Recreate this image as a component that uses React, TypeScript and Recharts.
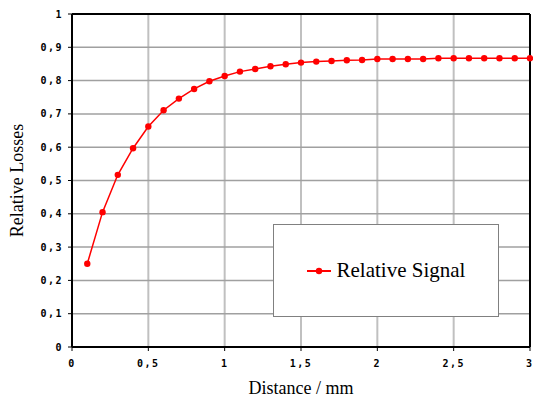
import React from 'react';
import { LineChart, Line, XAxis, YAxis, CartesianGrid, Legend, ReferenceLine, Label } from 'recharts';

const distances = [0.1, 0.2, 0.3, 0.4, 0.5, 0.6, 0.7, 0.8, 0.9, 1.0, 1.1, 1.2, 1.3, 1.4, 1.5, 1.6, 1.7, 1.8, 1.9, 2.0, 2.1, 2.2, 2.3, 2.4, 2.5, 2.6, 2.7, 2.8, 2.9, 3.0];
const relativeSignal = [0.25, 0.405, 0.517, 0.597, 0.662, 0.711, 0.746, 0.775, 0.798, 0.814, 0.827, 0.835, 0.843, 0.849, 0.854, 0.857, 0.859, 0.861, 0.862, 0.865, 0.865, 0.865, 0.865, 0.867, 0.867, 0.867, 0.867, 0.867, 0.867, 0.867];
const xTicks = [0, 0.5, 1, 1.5, 2, 2.5, 3];
const yTicks = [0, 0.1, 0.2, 0.3, 0.4, 0.5, 0.6, 0.7, 0.8, 0.9, 1];
const seriesName = 'Relative Signal';

const data = distances.map((d, i) => ({ d, v: relativeSignal[i] }));

const fmt = (v: number) => String(Math.round(v * 10) / 10).replace('.', ',');

const tickStyle = { fontFamily: 'DejaVu Sans Mono', fontWeight: 'bold', fontSize: 10, fill: '#000', letterSpacing: 1.5 } as any;

const LegendBox = (props: any) => {
  const item = (props.payload && props.payload[0]) || { value: seriesName, color: '#ff0000' };
  return (
    <div style={{ width: 226, height: 93, boxSizing: 'border-box', border: '1px solid #808080', background: '#fff', display: 'flex', alignItems: 'center', justifyContent: 'center' }}>
      <svg width={24} height={10} style={{ marginRight: 6 }}>
        <line x1={0} y1={5} x2={24} y2={5} stroke="#ff0000" strokeWidth={2} />
        <circle cx={12} cy={5} r={3.2} fill="#ff0000" />
      </svg>
      <span style={{ fontFamily: 'Liberation Serif', fontSize: 21, color: '#000' }}>{item.value}</span>
    </div>
  );
};

export default function App() {
  return (
    <div style={{ position: 'absolute', left: 0, top: 0, width: 533, height: 401, background: '#fff' }}>
      <LineChart width={533} height={401} data={data} margin={{ top: 14, right: 3, bottom: 0, left: 0 }}>
        <CartesianGrid horizontal={false} stroke="#c0c0c0" strokeWidth={2} verticalValues={xTicks} />
        <CartesianGrid vertical={false} stroke="#a0a0a0" strokeWidth={1.5} horizontalValues={yTicks} />
        <XAxis
          dataKey="d"
          type="number"
          domain={[0, 3]}
          ticks={xTicks}
          tickFormatter={fmt}
          height={54}
          tickSize={4}
          tickMargin={9}
          tick={tickStyle}
          axisLine={{ stroke: '#000', strokeWidth: 2 }}
          tickLine={{ stroke: '#000' }}
        >
          <Label value="Distance / mm" position="insideBottom" offset={7} style={{ fontFamily: 'Liberation Serif', fontSize: 18, fill: '#000' }} />
        </XAxis>
        <YAxis
          type="number"
          domain={[0, 1]}
          ticks={yTicks}
          tickFormatter={fmt}
          width={72}
          tickSize={4}
          tickMargin={5}
          tick={tickStyle}
          axisLine={{ stroke: '#000', strokeWidth: 2 }}
          tickLine={{ stroke: '#000' }}
        >
          <Label value="Relative Losses" angle={-90} position="insideLeft" offset={17} style={{ fontFamily: 'Liberation Serif', fontSize: 18, fill: '#000', textAnchor: 'middle' }} />
        </YAxis>
        <ReferenceLine y={1} stroke="#000" strokeWidth={2} ifOverflow="visible" />
        <ReferenceLine x={3} stroke="#000" strokeWidth={2} ifOverflow="visible" />
        <Legend
          layout="horizontal"
          verticalAlign="middle"
          align="center"
          content={<LegendBox />}
          wrapperStyle={{ position: 'absolute', left: 273, top: 224, width: 226, height: 93 }}
        />
        <Line
          type="linear"
          dataKey="v"
          name={seriesName}
          stroke="#ff0000"
          strokeWidth={1.5}
          dot={{ r: 3.2, fill: '#ff0000', stroke: '#ff0000', strokeWidth: 0 }}
          activeDot={false}
          isAnimationActive={false}
        />
      </LineChart>
    </div>
  );
}
